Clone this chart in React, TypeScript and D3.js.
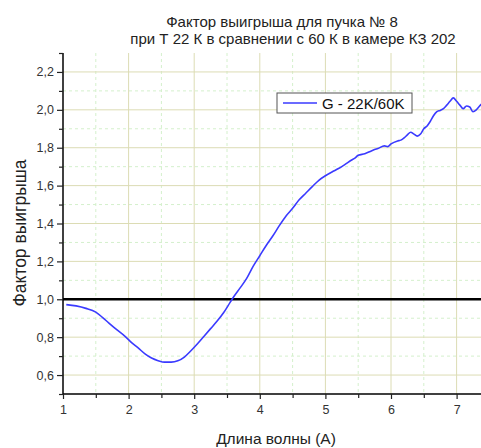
import * as d3 from 'd3';
import React, { useEffect, useRef } from 'react';

// wavelength (A) and gain factor G = 22K / 60K
const wavelength = [
  1.05, 1.2, 1.35, 1.5, 1.6, 1.7, 1.8, 1.95, 2.05, 2.15, 2.25, 2.35, 2.45, 2.55, 2.65, 2.75,
  2.85, 2.95, 3.05, 3.15, 3.25, 3.35, 3.45, 3.55, 3.6, 3.7, 3.8, 3.9, 4.0, 4.1, 4.2, 4.3,
  4.4, 4.5, 4.6, 4.7, 4.8, 4.9, 5.0, 5.1, 5.2, 5.3, 5.4, 5.45, 5.5, 5.6, 5.7, 5.75, 5.8,
  5.9, 5.95, 6.0, 6.1, 6.15, 6.2, 6.25, 6.3, 6.35, 6.4, 6.45, 6.5, 6.55, 6.6, 6.65, 6.7,
  6.75, 6.8, 6.85, 6.9, 6.95, 7.0, 7.05, 7.1, 7.15, 7.2, 7.25, 7.3, 7.35, 7.38,
];
const gain = [
  0.972, 0.965, 0.952, 0.932, 0.905, 0.874, 0.845, 0.803, 0.77, 0.742, 0.712, 0.69, 0.676, 0.668, 0.668, 0.675,
  0.695, 0.728, 0.765, 0.805, 0.845, 0.885, 0.93, 0.985, 1.012, 1.06, 1.11, 1.175, 1.23, 1.285, 1.335, 1.39,
  1.44, 1.48, 1.525, 1.56, 1.595, 1.628, 1.652, 1.672, 1.69, 1.712, 1.735, 1.745, 1.76, 1.768, 1.783, 1.79, 1.796,
  1.81, 1.806, 1.82, 1.836, 1.84, 1.852, 1.868, 1.882, 1.872, 1.861, 1.872, 1.9, 1.915, 1.94, 1.97, 1.99,
  1.997, 2.006, 2.025, 2.045, 2.063, 2.045, 2.025, 2.006, 2.02, 2.015, 1.99, 2.0, 2.02, 2.03,
];

const xTicks = [1, 2, 3, 4, 5, 6, 7];
const yTicks = [0.6, 0.8, 1.0, 1.2, 1.4, 1.6, 1.8, 2.0, 2.2];
const xMinor = [1.5, 2.5, 3.5, 4.5, 5.5, 6.5];
const yMinor = [0.5, 0.7, 0.9, 1.1, 1.3, 1.5, 1.7, 1.9, 2.1, 2.3];

const titleLines = ['Фактор выигрыша для пучка № 8', 'при Т 22 К в сравнении с 60 К в камере КЗ 202'];
const seriesName = 'G - 22K/60K';

const App: React.FC = () => {
  const svgRef = useRef<SVGSVGElement>(null);

  useEffect(() => {
    if (!svgRef.current) return;
    const width = 481;
    const height = 448;
    const font = '"Liberation Sans", Arial, sans-serif';

    d3.select(svgRef.current).selectAll('*').remove();
    const svg = d3.select(svgRef.current)
      .attr('width', width)
      .attr('height', height)
      .style('font-family', font);

    const left = 63;
    const right = 481;
    const top = 53;
    const bottom = 394;

    const x = d3.scaleLinear().domain([1, 1 + (right - left) / 65.6]).range([left, right]);
    const y = d3.scaleLinear().domain([0.5, 2.3]).range([bottom, top]);

    // minor grid (dashed green)
    svg.append('g')
      .selectAll('line')
      .data(xMinor)
      .join('line')
      .attr('x1', d => x(d)).attr('x2', d => x(d))
      .attr('y1', top).attr('y2', bottom)
      .attr('stroke', '#d4f0cc').attr('stroke-dasharray', '3,3');
    svg.append('g')
      .selectAll('line')
      .data(yMinor.filter(v => v > 0.5 && v < 2.3))
      .join('line')
      .attr('x1', left).attr('x2', right)
      .attr('y1', d => y(d)).attr('y2', d => y(d))
      .attr('stroke', '#d4f0cc').attr('stroke-dasharray', '3,3');

    // major grid (khaki)
    svg.append('g')
      .selectAll('line')
      .data(xTicks.filter(v => v > 1))
      .join('line')
      .attr('x1', d => x(d)).attr('x2', d => x(d))
      .attr('y1', top).attr('y2', bottom)
      .attr('stroke', '#dcdcb4').attr('stroke-width', 1);
    svg.append('g')
      .selectAll('line')
      .data(yTicks)
      .join('line')
      .attr('x1', left).attr('x2', right)
      .attr('y1', d => y(d)).attr('y2', d => y(d))
      .attr('stroke', '#dcdcb4').attr('stroke-width', 1);

    // reference line at 1.0
    svg.append('line')
      .attr('x1', left).attr('x2', right)
      .attr('y1', y(1)).attr('y2', y(1))
      .attr('stroke', '#000').attr('stroke-width', 2.5);

    // data curve
    const pts = wavelength.map((w, i) => [w, gain[i]] as [number, number]);
    const line = d3.line<[number, number]>()
      .x(d => x(d[0]))
      .y(d => y(d[1]))
      .curve(d3.curveMonotoneX);
    svg.append('path')
      .datum(pts)
      .attr('d', line)
      .attr('fill', 'none')
      .attr('stroke', '#3a3aff')
      .attr('stroke-width', 1.6);

    // axes
    const comma = (v: number) => d3.format('.1f')(v).replace('.', ',');
    const yAxis = svg.append('g')
      .attr('transform', `translate(${left},0)`)
      .call(d3.axisLeft(y).tickValues(yTicks).tickSize(6).tickPadding(3).tickFormat(d => comma(Number(d))));
    svg.append('g')
      .attr('transform', `translate(${left},0)`)
      .call(d3.axisLeft(y).tickValues(yMinor).tickSize(4).tickFormat(() => ''))
      .select('.domain').remove();
    yAxis.select('.domain').attr('d', `M0,${bottom}V${top}`).attr('stroke-width', 1.5);

    const xAxis = svg.append('g')
      .attr('transform', `translate(0,${bottom})`)
      .call(d3.axisBottom(x).tickValues(xTicks).tickSize(5).tickPadding(6).tickFormat(d => String(d)));
    svg.append('g')
      .attr('transform', `translate(0,${bottom})`)
      .call(d3.axisBottom(x).tickValues(xMinor).tickSize(4).tickFormat(() => ''))
      .select('.domain').remove();
    xAxis.select('.domain').attr('d', `M${left},0H${right}`).attr('stroke-width', 1.5);

    svg.selectAll('.tick text')
      .style('font-size', '12.5px')
      .style('font-family', font)
      .attr('fill', '#333');
    svg.selectAll('.tick line').attr('stroke', '#222').attr('stroke-width', 1.2);

    // titles
    svg.append('text')
      .attr('x', 282).attr('y', 27)
      .attr('text-anchor', 'middle')
      .style('font-size', '15px')
      .attr('fill', '#222')
      .text(titleLines[0]);
    svg.append('text')
      .attr('x', 293).attr('y', 44)
      .attr('text-anchor', 'middle')
      .style('font-size', '15px')
      .attr('fill', '#222')
      .text(titleLines[1]);

    svg.append('text')
      .attr('x', 276).attr('y', 444)
      .attr('text-anchor', 'middle')
      .style('font-size', '15.5px')
      .attr('fill', '#222')
      .text('Длина волны (A)');

    svg.append('text')
      .attr('transform', 'translate(26,233) rotate(-90)')
      .attr('text-anchor', 'middle')
      .style('font-size', '17.5px')
      .attr('fill', '#222')
      .text('Фактор выигрыша');

    // legend
    const lg = svg.append('g').attr('transform', 'translate(277,93)');
    lg.append('rect')
      .attr('width', 135).attr('height', 20)
      .attr('fill', '#fff').attr('stroke', '#555').attr('stroke-width', 1);
    lg.append('line')
      .attr('x1', 6).attr('x2', 40).attr('y1', 10).attr('y2', 10)
      .attr('stroke', '#3a3aff').attr('stroke-width', 1.6);
    lg.append('text')
      .attr('x', 45).attr('y', 15.5)
      .style('font-size', '15px')
      .attr('fill', '#111')
      .text(seriesName);
  }, []);

  return (
    <div style={{ position: 'absolute', left: 0, top: 0 }}>
      <svg ref={svgRef} style={{ display: 'block' }} />
    </div>
  );
};

export default App;
